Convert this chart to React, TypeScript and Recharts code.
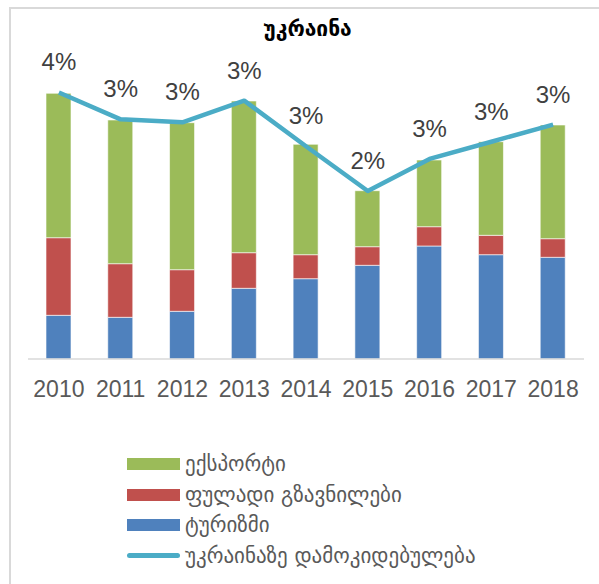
import React from 'react';
import { ComposedChart, Bar, Line, XAxis, YAxis, Legend, LabelList } from 'recharts';

// years on the category axis
const years = ['2010', '2011', '2012', '2013', '2014', '2015', '2016', '2017', '2018'];

// stacked parts (no axis shown in the source)
const tourism = [43.7, 41.7, 47.7, 70.7, 80.3, 93.7, 113, 104.3, 101.7];
const remittances = [77.6, 53.6, 41.6, 35.6, 24, 18.6, 19.3, 19.4, 18.6];
const exports = [144.4, 143.7, 147, 151.7, 110.4, 56, 66.7, 93.6, 113.7];

// dependence on Ukraine, %
const dependence = [3.57, 3.21, 3.17, 3.46, 2.85, 2.25, 2.68, 2.91, 3.14];

const seriesNames = {
  exports: 'ექსპორტი',
  remittances: 'ფულადი გზავნილები',
  tourism: 'ტურიზმი',
  dependence: 'უკრაინაზე დამოკიდებულება',
};

const COLORS = {
  exports: '#9bbb59',
  remittances: '#c0504d',
  tourism: '#4f81bd',
  dependence: '#4bacc6',
};

const GEO_FONT = '"DejaVu Sans", sans-serif';
const NUM_FONT = '"Liberation Sans", Arial, sans-serif';

const chartData = years.map((year, i) => ({
  year,
  tourism: tourism[i],
  remittances: remittances[i],
  exports: exports[i],
  dependence: dependence[i],
}));

const legendOrder: (keyof typeof COLORS)[] = ['exports', 'remittances', 'tourism', 'dependence'];

const LegendContent: React.FC<any> = () => (
  <div style={{ fontFamily: GEO_FONT, fontSize: 21, color: '#595959' }}>
    {legendOrder.map((key) => (
      <div key={key} style={{ display: 'flex', alignItems: 'center', height: 30.5 }}>
        {key === 'dependence' ? (
          <div style={{ width: 53, height: 5, borderRadius: 3, background: COLORS[key], marginRight: 5 }} />
        ) : (
          <div style={{ width: 53, height: 12, background: COLORS[key], marginRight: 5 }} />
        )}
        <span>{seriesNames[key]}</span>
      </div>
    ))}
  </div>
);

export default function App() {
  return (
    <div style={{ position: 'relative', width: 599, height: 584, overflow: 'hidden', background: '#fff' }}>
      <style>{'body{margin:0}'}</style>
      <div
        style={{
          position: 'absolute',
          left: 9,
          top: 7,
          width: 700,
          height: 700,
          borderTop: '2px solid #d9d9d9',
          borderLeft: '2px solid #d9d9d9',
        }}
      />
      <div
        style={{
          position: 'absolute',
          left: 0,
          width: 599,
          top: 17,
          textAlign: 'center',
          paddingLeft: 16,
          boxSizing: 'border-box',
          fontFamily: GEO_FONT,
          fontWeight: 'bold',
          fontSize: 21,
          color: '#000',
        }}
      >
        უკრაინა
      </div>
      <ComposedChart
        width={599}
        height={584}
        data={chartData}
        margin={{ top: 79, right: 15, left: 28, bottom: 195 }}
        barSize={25}
        style={{ position: 'absolute', left: 0, top: 0 }}
      >
        <XAxis
          dataKey="year"
          axisLine={{ stroke: '#d9d9d9', strokeWidth: 1.5 }}
          tickLine={false}
          tickMargin={16}
          interval={0}
          tick={{ fontSize: 23, fill: '#595959', fontFamily: NUM_FONT }}
        />
        <YAxis yAxisId="left" hide domain={[0, 280]} />
        <YAxis yAxisId="right" orientation="right" hide domain={[0, 3.75]} />
        <Legend
          layout="vertical"
          align="center"
          verticalAlign="middle"
          wrapperStyle={{ top: 449, left: 127, width: 460 }}
          content={<LegendContent />}
        />
        <Bar yAxisId="left" dataKey="tourism" stackId="a" fill={COLORS.tourism} stroke="#ffffff" strokeWidth={0.6} isAnimationActive={false} />
        <Bar yAxisId="left" dataKey="remittances" stackId="a" fill={COLORS.remittances} stroke="#ffffff" strokeWidth={0.6} isAnimationActive={false} />
        <Bar yAxisId="left" dataKey="exports" stackId="a" fill={COLORS.exports} stroke="#ffffff" strokeWidth={0.6} isAnimationActive={false} />
        <Line
          yAxisId="right"
          dataKey="dependence"
          stroke={COLORS.dependence}
          strokeWidth={4.5}
          strokeLinejoin="round"
          dot={false}
          activeDot={false}
          isAnimationActive={false}
        >
          <LabelList
            dataKey="dependence"
            position="top"
            offset={22}
            fill="#404040"
            fontSize={24}
            fontFamily={NUM_FONT}
            formatter={(v: number) => `${Math.round(v)}%`}
          />
        </Line>
      </ComposedChart>
    </div>
  );
}
